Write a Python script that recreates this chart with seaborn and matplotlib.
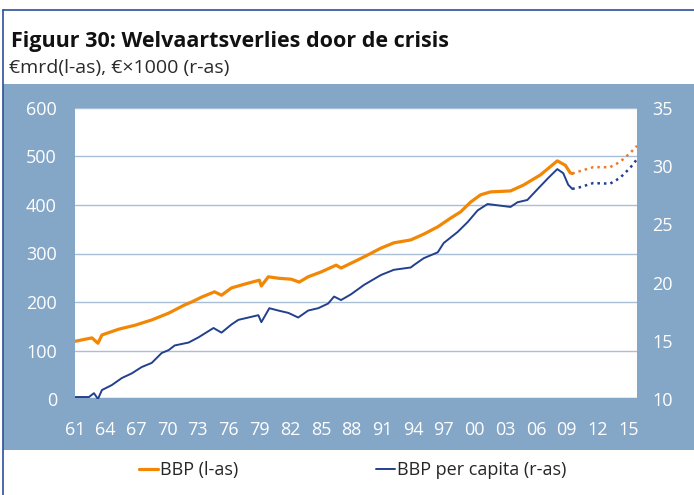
import numpy as np
import pandas as pd
import seaborn as sns
import matplotlib.pyplot as plt
from matplotlib.patches import Rectangle
from matplotlib.lines import Line2D

# BBP (l-as), EUR mrd
bbp_years = [1961.00, 1962.65, 1963.24, 1963.63, 1965.28, 1966.84, 1968.49, 1970.14,
             1971.70, 1972.38, 1973.35, 1974.62, 1975.30, 1976.27, 1977.25, 1977.93,
             1979.00, 1979.19, 1979.87, 1980.84, 1982.11, 1982.89, 1983.76, 1985.03,
             1986.49, 1986.97, 1987.95, 1989.21, 1990.86, 1992.13, 1993.78, 1995.05,
             1996.41, 1997.67, 1998.65, 1999.62, 2000.59, 2001.56, 2003.51, 2004.77,
             2006.43, 2008.08, 2008.86, 2009.35, 2009.54]
bbp_values = [119, 126, 115, 132, 144, 152, 163, 177,
              194, 200, 210, 221, 214, 229, 235, 239,
              245, 233, 252, 249, 247, 241, 252, 262,
              276, 270, 280, 293, 311, 322, 328, 340,
              355, 373, 386, 406, 421, 427, 429, 441,
              462, 491, 482, 466, 465]
bbp_proj_years = [2009.54, 2010.32, 2011.58, 2013.23, 2014.21, 2015.18, 2015.86]
bbp_proj_values = [465, 470, 478, 478, 489, 507, 522]

# BBP per capita (r-as), EUR x1000
cap_years = [1961.00, 1962.36, 1962.85, 1963.24, 1963.63, 1964.60, 1965.57, 1966.54,
             1967.52, 1968.49, 1969.46, 1970.14, 1970.73, 1972.09, 1973.06, 1974.52,
             1975.30, 1976.27, 1976.95, 1977.93, 1978.90, 1979.19, 1979.97, 1980.84,
             1981.82, 1982.79, 1983.76, 1984.74, 1985.71, 1986.29, 1986.97, 1987.95,
             1989.21, 1990.86, 1992.13, 1993.78, 1994.07, 1995.05, 1996.41, 1996.99,
             1998.35, 1999.33, 2000.30, 2001.27, 2003.51, 2004.19, 2005.16, 2006.23,
             2007.21, 2008.08, 2008.66, 2009.15, 2009.54]
cap_values = [10.17, 10.17, 10.5, 10.0, 10.77, 11.2, 11.8, 12.2,
              12.75, 13.1, 13.95, 14.2, 14.6, 14.85, 15.3, 16.1,
              15.7, 16.4, 16.8, 17.0, 17.2, 16.6, 17.8, 17.6,
              17.4, 17.0, 17.6, 17.8, 18.2, 18.8, 18.5, 19.0,
              19.8, 20.65, 21.1, 21.3, 21.5, 22.1, 22.6, 23.4,
              24.35, 25.2, 26.2, 26.75, 26.5, 26.9, 27.1, 28.1,
              29.0, 29.75, 29.4, 28.4, 28.05]
cap_proj_years = [2009.54, 2010.32, 2011.58, 2013.23, 2014.21, 2015.18, 2015.86]
cap_proj_values = [28.05, 28.2, 28.55, 28.5, 29.0, 29.85, 30.6]

tick_years = list(range(1961, 2016, 3))
tick_labels = [f"{y % 100:02d}" for y in tick_years]

orange = "#F28705"
orange_proj = "#EE7A2A"
navy = "#23408E"
panel = "#84A6C7"
grid = "#A9BFD6"
frame = "#2D4F9A"

sns.set_style("white")
plt.rcParams["font.family"] = ["Open Sans", "DejaVu Sans"]

fig = plt.figure(figsize=(6.94, 4.95), dpi=100)
fig.patches.append(Rectangle((3 / 694, 1 - 450 / 495), 1, 366 / 495,
                             transform=fig.transFigure, facecolor=panel,
                             edgecolor="none", zorder=-1))
fig.add_artist(Line2D([3 / 694, 1], [1 - 10 / 495, 1 - 10 / 495], color=frame, lw=1.2))
fig.add_artist(Line2D([3 / 694, 3 / 694], [0, 1 - 10 / 495], color=frame, lw=1.2))

ax = fig.add_axes([75 / 694, 1 - 399 / 495, 562 / 694, 291 / 495])
ax.set_facecolor("white")
ax2 = ax.twinx()

sns.lineplot(x=bbp_years, y=bbp_values, ax=ax, color=orange, lw=2.3)
sns.lineplot(x=bbp_proj_years, y=bbp_proj_values, ax=ax, color=orange_proj, lw=1.8,
             linestyle=(0, (1, 1.6)))
sns.lineplot(x=cap_years, y=cap_values, ax=ax2, color=navy, lw=1.4)
sns.lineplot(x=cap_proj_years, y=cap_proj_values, ax=ax2, color=navy, lw=1.8,
             linestyle=(0, (1, 1.6)))

ax.set_xlim(1961.2, 2015.86)
ax.set_ylim(0, 600)
ax2.set_ylim(10, 35)
ax.set_yticks(range(0, 601, 100))
ax2.set_yticks(range(10, 36, 5))
ax.set_xticks(tick_years)
ax.set_xticklabels(tick_labels)
ax.set_xticks(range(1962, 2016), minor=True)
ax.set_xlabel("")
ax.set_ylabel("")
ax2.set_ylabel("")

ax.yaxis.grid(True, color=grid, lw=1)
ax.xaxis.grid(False)
ax2.grid(False)
ax.set_axisbelow(True)

for a in (ax, ax2):
    for s in ("left", "right", "top"):
        a.spines[s].set_visible(False)
ax2.spines["bottom"].set_visible(False)
ax.spines["bottom"].set_color(panel)
ax.spines["bottom"].set_linewidth(2.5)

ax.tick_params(axis="y", length=0, labelcolor="white", labelsize=13, pad=13)
ax2.tick_params(axis="y", length=0, labelcolor="white", labelsize=13, pad=11)
ax.tick_params(axis="x", which="both", direction="inout", length=3, width=2,
               color="white", labelcolor="white", labelsize=13, pad=14)

fig.text(11 / 694, 1 - 42 / 495, "Figuur 30: Welvaartsverlies door de crisis",
         fontsize=15.5, fontweight="bold", va="center", ha="left", color="#111111")
fig.text(9 / 694, 1 - 68 / 495, "€mrd(l-as), €×1000 (r-as)",
         fontsize=14, va="center", ha="left", color="#2a2a2a")

handles = [Line2D([], [], color=orange, lw=2.3), Line2D([], [], color=navy, lw=1.4)]
fig.legend(handles, ["BBP (l-as)", "BBP per capita (r-as)"], loc="center left",
           bbox_to_anchor=(139 / 694, 1 - 470 / 495), ncol=2, frameon=False,
           fontsize=13, handlelength=1.05, handletextpad=0.12, columnspacing=7.6,
           borderaxespad=0, borderpad=0)

fig.savefig("out.png", dpi=100)
